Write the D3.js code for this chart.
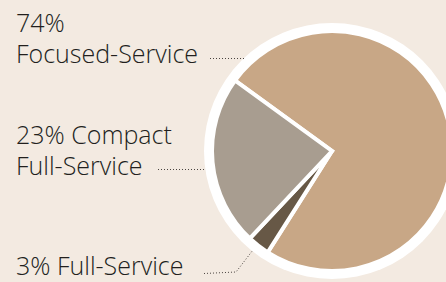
<!DOCTYPE html>
<html><head><meta charset="utf-8">
<script src="https://cdn.jsdelivr.net/npm/d3@7"></script>
<style>html,body{margin:0;padding:0;background:#F3EAE1;}svg{display:block;}</style>
</head><body>
<script>
const categories = ["Focused-Service", "Full-Service", "Compact Full-Service"];
const values = [74, 3, 23];
const colors = ["#C8A786", "#675846", "#A89D90"];

const W = 446, H = 282;
const svg = d3.select("body").append("svg").attr("width", W).attr("height", H);
svg.append("rect").attr("width", W).attr("height", H).attr("fill", "#F3EAE1");

const cx = 332, cy = 151, r = 120;
const g = svg.append("g").attr("transform", `translate(${cx},${cy})`);
g.append("circle").attr("r", r + 8).attr("fill", "#fff");
const pie = d3.pie().sort(null).startAngle(-54 * Math.PI / 180).endAngle((360 - 54) * Math.PI / 180);
const arc = d3.arc().innerRadius(0).outerRadius(r);
g.selectAll("path").data(pie(values)).join("path")
  .attr("d", arc).attr("fill", (d, i) => colors[i])
  .attr("stroke", "#fff").attr("stroke-width", 4).attr("stroke-linejoin", "miter");

const font = "'Open Sans', sans-serif";
const labels = [
  {lines: ["74%", "Focused-Service"], y: [32, 63]},
  {lines: ["23% Compact", "Full-Service"], y: [144, 175]},
  {lines: ["3% Full-Service"], y: [275]}
];
labels.forEach(l => l.lines.forEach((t, i) => {
  svg.append("text").attr("x", 16).attr("y", l.y[i]).text(t)
    .attr("font-family", font).attr("font-size", 25).attr("font-weight", 300)
    .attr("fill", "#221f1d");
}));

const line = d3.line();
const leaders = [
  [[210, 58.5], [244, 58.5]],
  [[158, 169.5], [206, 169.5]],
  [[204, 273.5], [236, 272], [253, 250]]
];
leaders.forEach(p => svg.append("path").attr("d", line(p)).attr("fill", "none")
  .attr("stroke", "#4a4440").attr("stroke-width", 1).attr("stroke-dasharray", "1,2"));
</script>
</body></html>
